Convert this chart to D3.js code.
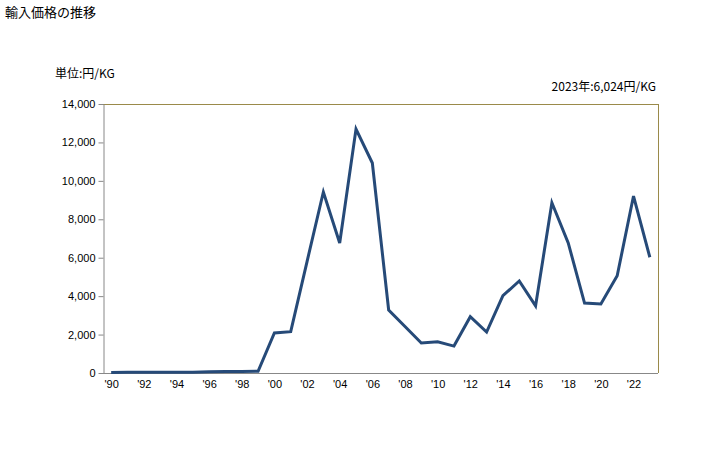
<!DOCTYPE html>
<html><head><meta charset="utf-8">
<script src="https://cdn.jsdelivr.net/npm/d3@7"></script>
<style>body{margin:0;background:#fff;}</style>
</head><body>
<svg id="c" width="728" height="450"></svg>
<script>
const years = d3.range(1990, 2024);
const values = [30,35,35,40,40,45,70,75,80,90,2080,2150,5800,9420,6770,12700,10930,3280,2420,1560,1620,1400,2930,2130,4020,4790,3490,8860,6770,3640,3590,5060,9210,6024];
const yTicks = [0,2000,4000,6000,8000,10000,12000,14000];
const xTickYears = d3.range(1990, 2023, 2);

const JP = '"Noto Sans CJK JP", sans-serif';
const AR = '"Liberation Sans", Arial, sans-serif';
const svg = d3.select("#c");
const L=103, R=658, T=104, B=373;
const x = d3.scalePoint().domain(years).range([L,R]).padding(0.5);
const y = d3.scaleLinear().domain([0,14000]).range([B,T]);

svg.append("text").attr("x",5).attr("y",17).style("font-family",JP).style("font-size","13px").attr("fill","#000").text("輸入価格の推移");
svg.append("text").attr("x",55).attr("y",78).style("font-family",JP).style("font-size","12px").attr("fill","#000").text("単位:円/KG");
svg.append("text").attr("x",656).attr("y",91).style("font-family",JP).style("font-size","12px").attr("text-anchor","end").attr("fill","#000").text("2023年:6,024円/KG");

// frame
svg.append("line").attr("x1",L).attr("x2",R).attr("y1",T+0.5).attr("y2",T+0.5).attr("stroke","#9a8a4a");
svg.append("line").attr("x1",R+0.5).attr("x2",R+0.5).attr("y1",T).attr("y2",B).attr("stroke","#9a8a4a");

const ya = svg.append("g").attr("transform",`translate(${L+0.5},0)`)
  .call(d3.axisLeft(y).tickValues(yTicks).tickSize(5).tickSizeOuter(0).tickFormat(d3.format(",")));
ya.select(".domain").attr("stroke","#888");
ya.selectAll(".tick line").attr("stroke","#888");
ya.selectAll("text").style("font-family",AR).style("font-size","11px").attr("fill","#000");

const xa = svg.append("g").attr("transform",`translate(0,${B+0.5})`)
  .call(d3.axisBottom(x).tickValues(xTickYears).tickSize(0).tickSizeOuter(0).tickPadding(7).tickFormat(d=>"'"+String(d).slice(2)));
xa.select(".domain").attr("stroke","#888").attr("d",`M${L},0H${R}`);
xa.selectAll("text").style("font-family",AR).style("font-size","11px").attr("fill","#000");

svg.append("path").datum(values)
  .attr("fill","none").attr("stroke","#264a78").attr("stroke-width",3).attr("stroke-linejoin","miter")
  .attr("d", d3.line().x((d,i)=>x(years[i])).y(d=>y(d)));
</script>
</body></html>
